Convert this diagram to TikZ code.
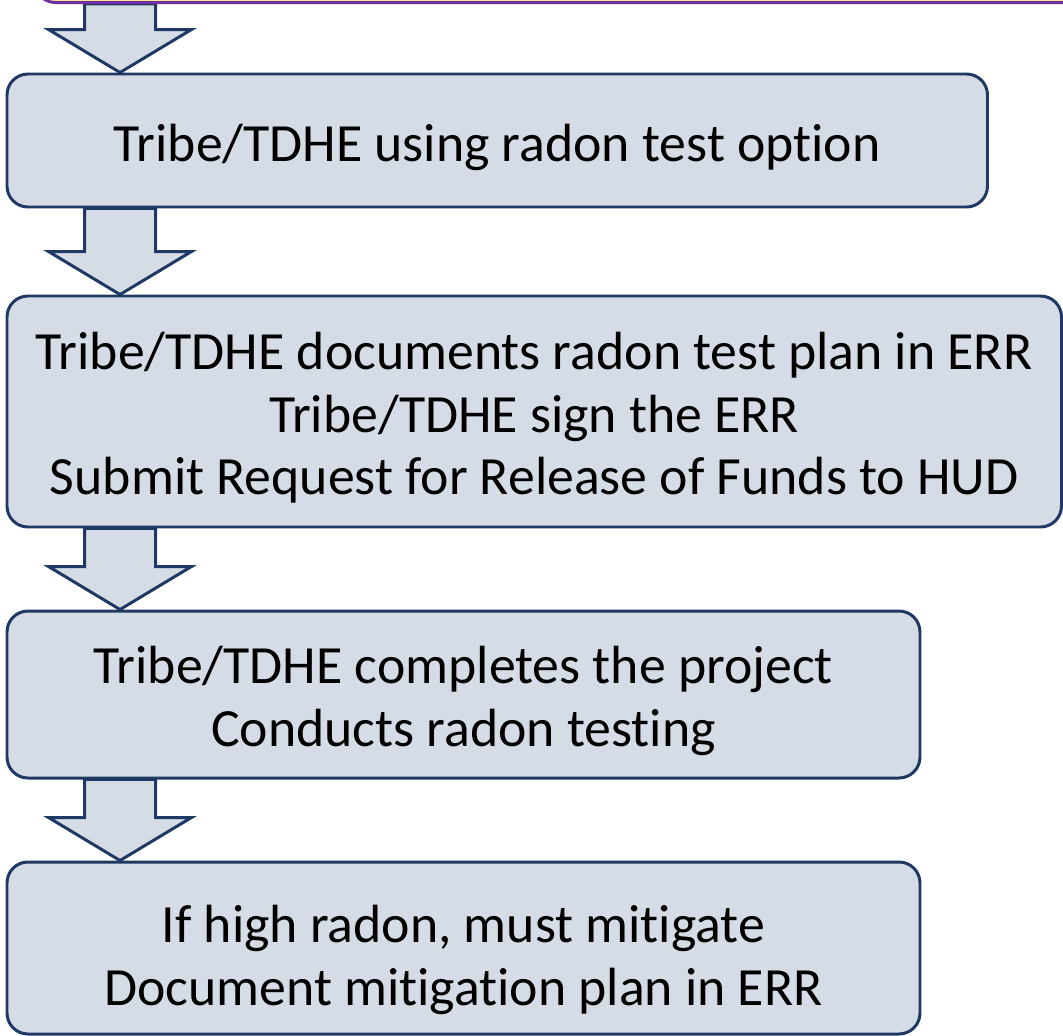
\documentclass[tikz,border=0pt]{standalone}
\usepackage{fontspec}
\setmainfont{Carlito}[Ligatures=NoCommon]
\usepackage{xcolor}
\usepackage{tikz}
\usetikzlibrary{calc,backgrounds}
\definecolor{navy}{HTML}{1F3864}
\definecolor{steelfill}{HTML}{D6DCE5}
\definecolor{grape}{HTML}{7030A0}
\definecolor{butter}{HTML}{FFE699}

\begin{document}
\begin{tikzpicture}[
  stepbox/.style={draw=navy,fill=steelfill,line width=1.7pt,rounded corners=0.42cm,inner sep=0pt},
  steptext/.style={align=center,font=\fontsize{30.6}{35.6}\selectfont,inner sep=0pt,yshift=-0.13cm},
  blockarrow/.style={draw=navy,fill=steelfill,line width=1.7pt,line join=miter}]
\clip (0,0) rectangle (21.26,-20.72);
\node[draw=grape,fill=butter,line width=1.7pt,rounded corners=0.42cm,anchor=south west,
  minimum width=22cm,minimum height=2cm] (prevbox) at (0.66,-0.08) {};
\node[stepbox,minimum width=19.61cm,minimum height=2.66cm,
  label={[steptext]center:Tribe/TDHE using radon test option}] (optbox) at (9.945,-2.81) {};
\node[stepbox,minimum width=21.09cm,minimum height=4.62cm,
  label={[steptext]center:{Tribe/TDHE documents radon test plan in ERR\\Tribe/TDHE sign the ERR\\Submit Request for Release of Funds to HUD}}]
  (planbox) at (10.685,-8.23) {};
\node[stepbox,minimum width=18.26cm,minimum height=3.34cm,
  label={[steptext]center:{Tribe/TDHE completes the project\\Conducts radon testing}}]
  (projbox) at (9.27,-13.89) {};
\node[stepbox,minimum width=18.26cm,minimum height=3.44cm,
  label={[steptext,yshift=-0.11cm]center:{If high radon, must mitigate\\Document mitigation plan in ERR}}]
  (mitbox) at (9.27,-18.96) {};
\begin{scope}[on background layer]
\foreach \a/\b in {prevbox/optbox,optbox/planbox,planbox/projbox,projbox/mitbox}
  \draw[blockarrow] let \p1=(\b.north west), \p2=(\a.south) in
    (\x1+1.58cm,\y2) -- (\x1+3.0cm,\y2) -- (\x1+3.0cm,\y1+0.86cm) -- (\x1+3.72cm,\y1+0.86cm)
    -- (\x1+2.29cm,\y1) -- (\x1+0.86cm,\y1+0.86cm) -- (\x1+1.58cm,\y1+0.86cm) -- cycle;
\end{scope}
\end{tikzpicture}
\end{document}
